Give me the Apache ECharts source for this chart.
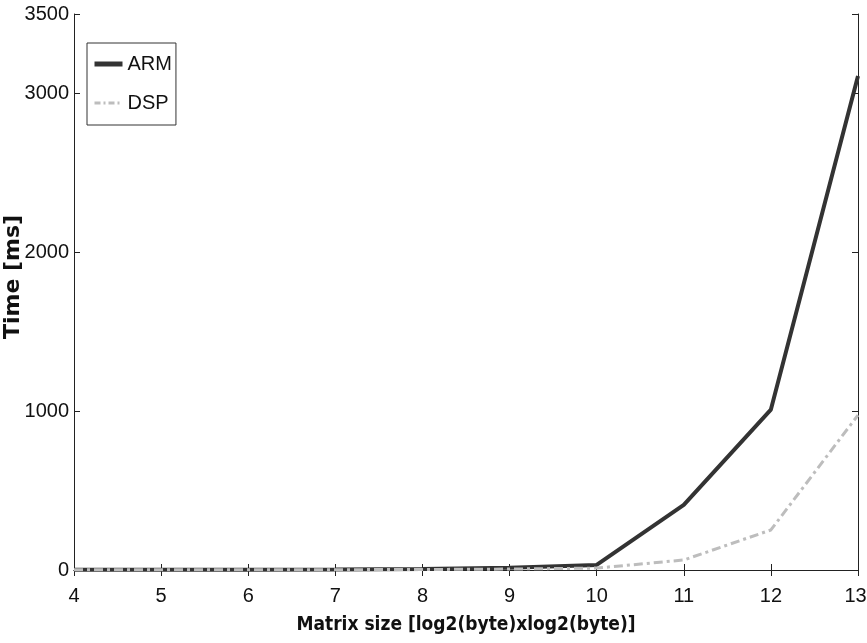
<!DOCTYPE html>
<html><head><meta charset="utf-8">
<script src="https://cdn.jsdelivr.net/npm/echarts@6/dist/echarts.min.js"></script>
<style>html,body{margin:0;padding:0;background:#fff}#c{width:867px;height:643px}</style>
</head><body><div id="c"></div>
<script>
const sizes = [4, 5, 6, 7, 8, 9, 10, 11, 12, 13];
const armTime = [1, 1, 2, 3, 6, 14, 32, 410, 1010, 3110];
const dspTime = [1, 1, 1, 2, 3, 6, 12, 63, 252, 975];
const yTicks = [0, 1000, 2000, 3000, 3500];

const tickFont = '"Liberation Sans", Arial, sans-serif';
const chart = echarts.init(document.getElementById('c'), null, {renderer: 'canvas'});
const axisLine = {show: true, lineStyle: {color: '#222', width: 1}};
const tick = {show: true, inside: true, length: 6, lineStyle: {color: '#222'}};
const armStyle = {color: '#333', width: 4};
const dspStyle = {color: '#bdbdbd', width: 3, type: [9, 4, 3, 4]};
chart.setOption({
  animation: false,
  backgroundColor: '#fff',
  grid: {left: 74, right: 9, top: 14, bottom: 73, containLabel: false, outerBoundsMode: 'none'},
  legend: {
    orient: 'vertical', left: 87, top: 43,
    data: [
      {name: 'ARM', lineStyle: {color: '#333', width: 5}},
      {name: 'DSP', lineStyle: {color: '#bdbdbd', width: 3, type: [6, 3, 2, 3]}}
    ],
    borderColor: '#333', borderWidth: 1, padding: [10, 4, 11, 5],
    itemWidth: 28, itemHeight: 14, itemGap: 17,
    itemStyle: {opacity: 0},
    textStyle: {fontFamily: tickFont, fontSize: 20, lineHeight: 22, color: '#111'}
  },
  xAxis: [{
    type: 'value', min: 4, max: 13, interval: 1,
    name: 'Matrix size [log2(byte)xlog2(byte)]', nameLocation: 'middle', nameGap: 46,
    nameTextStyle: {fontFamily: '"DejaVu Sans Condensed", "DejaVu Sans", sans-serif', fontWeight: 'bold', fontSize: 19, color: '#111'},
    axisLine: axisLine, axisTick: tick,
    axisLabel: {fontFamily: tickFont, fontSize: 20, color: '#111', margin: 16,
      formatter: v => v === sizes[sizes.length - 1] ? '{e|' + v + '}' : String(v),
      rich: {e: {fontFamily: tickFont, fontSize: 20, color: '#111', padding: [0, 5, 0, 0]}}},
    splitLine: {show: false}
  }, {
    type: 'value', min: 4, max: 13, interval: 1, position: 'top',
    axisLine: axisLine, axisTick: tick,
    axisLabel: {show: false}, splitLine: {show: false}
  }],
  yAxis: [{
    type: 'value', min: 0, max: 3500, interval: 1000,
    name: 'Time [ms]', nameLocation: 'middle', nameGap: 50, nameRotate: 90, nameMoveOverlap: false,
    nameTextStyle: {fontFamily: '"DejaVu Sans", sans-serif', fontWeight: 'bold', fontSize: 22, color: '#111', padding: [0, 0, 0, 30]},
    axisLine: axisLine, axisTick: tick,
    axisLabel: {fontFamily: tickFont, fontSize: 20, color: '#111', margin: 5,
      formatter: v => yTicks.includes(v) ? String(v) : ''},
    splitLine: {show: false}
  }, {
    type: 'value', min: 0, max: 3500, interval: 1000, position: 'right',
    axisLine: axisLine, axisTick: tick,
    axisLabel: {show: false}, splitLine: {show: false}
  }],
  series: [{
    name: 'ARM', type: 'line', symbol: 'none',
    data: sizes.map((s, i) => [s, armTime[i]]),
    lineStyle: armStyle,
    itemStyle: {color: '#333'}, z: 3
  }, {
    name: 'DSP', type: 'line', symbol: 'none',
    data: sizes.map((s, i) => [s, dspTime[i]]),
    lineStyle: dspStyle,
    itemStyle: {color: '#bdbdbd'}, z: 4
  }]
});
</script></body></html>
